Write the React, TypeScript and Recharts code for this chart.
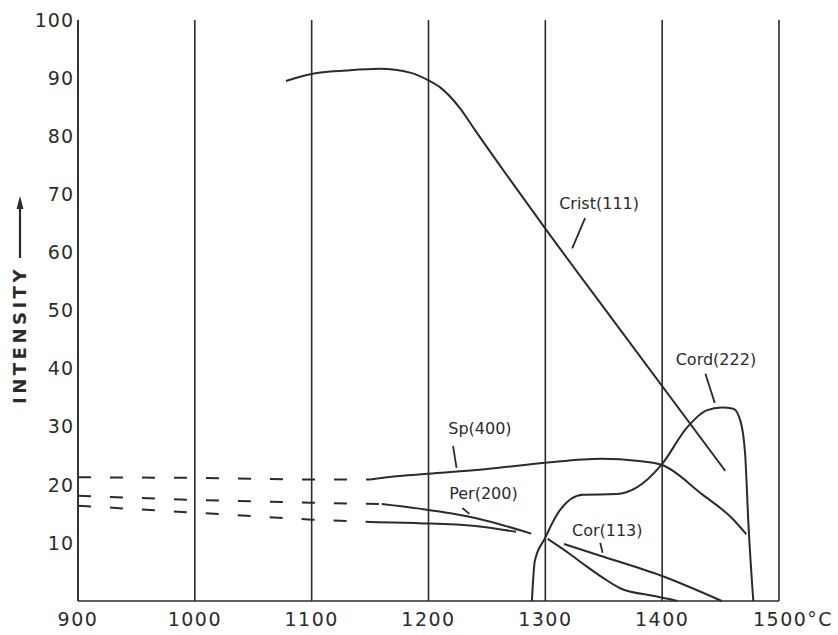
import { LineChart, Line, XAxis, YAxis, CartesianGrid, ReferenceLine, ReferenceDot } from 'recharts';

const FONT = '"DejaVu Sans", sans-serif';
const INK = '#2b2b2b';

// axis ticks
const xTicks = [900, 1000, 1100, 1200, 1300, 1400, 1500];
const yTicks = [10, 20, 30, 40, 50, 60, 70, 80, 90, 100];

// Crist(111)
const cristTemp = [1078, 1100, 1130, 1158, 1185, 1200, 1210, 1227, 1240, 1300, 1357, 1454];
const cristVal = [89.5, 90.7, 91.3, 91.6, 90.9, 89.6, 88.4, 84.8, 81.0, 64.1, 48.6, 22.4];

// Sp(400) - extrapolated part, then measured
const spDashTemp = [900, 1000, 1100, 1150];
const spDashVal = [21.3, 21.2, 20.9, 20.9];
const spTemp = [1150, 1175, 1200, 1250, 1300, 1348, 1380, 1400, 1434, 1460, 1472];
const spVal = [20.9, 21.5, 21.9, 22.7, 23.8, 24.5, 24.1, 23.4, 18.4, 14.2, 11.5];

// Per(200) - upper trace
const perDashTemp = [900, 1000, 1100, 1160];
const perDashVal = [18.1, 17.4, 16.9, 16.7];
const perTemp = [1160, 1192, 1240, 1288];
const perVal = [16.7, 15.9, 14.3, 11.6];

// lower trace
const lowDashTemp = [900, 1000, 1100, 1150];
const lowDashVal = [16.4, 15.2, 14.0, 13.6];
const lowTemp = [1150, 1192, 1240, 1275];
const lowVal = [13.6, 13.4, 12.9, 11.9];

// Cord(222)
const cordTemp = [1288.5, 1291, 1300, 1307, 1312, 1332, 1361, 1378, 1400, 1421, 1438, 1451, 1461, 1467, 1471, 1474, 1478];
const cordVal = [0, 6.9, 10.9, 13.8, 15.5, 18.3, 18.4, 19.5, 23.6, 29.8, 32.8, 33.3, 33.1, 31.0, 25.3, 12.6, 0];

// Cor(113) - two traces
const corTemp = [1302, 1321, 1335, 1350, 1364, 1392, 1407, 1413];
const corVal = [10.7, 8.1, 6.0, 3.9, 2.2, 0.9, 0.3, 0];
const cor2Temp = [1316, 1347, 1400, 1451];
const cor2Val = [9.8, 7.8, 4.3, 0];

const zip = (t: number[], v: number[]) => t.map((x, i) => ({ t: x, v: v[i] }));

const XTick = ({ x, y, payload }: any) => {
  const last = payload.value === 1500;
  return (
    <text
      x={x}
      y={y}
      dy="0.71em"
      dx={last ? -26 : 0}
      textAnchor={last ? 'start' : 'middle'}
      fill={INK}
      fontSize={19}
      fontFamily={FONT}
      letterSpacing={1.5}
    >
      {last ? '1500°C' : payload.value}
    </text>
  );
};

const IntensityLabel = () => (
  <g>
    <text
      transform="translate(26,335) rotate(-90)"
      textAnchor="middle"
      fill={INK}
      fontSize={18}
      fontWeight={600}
      fontFamily={FONT}
      letterSpacing={3.5}
    >
      INTENSITY
    </text>
    <line x1={20} y1={258} x2={20} y2={206} stroke={INK} strokeWidth={2.2} />
    <path d="M20 196 L16.5 209 L23.5 209 Z" fill={INK} />
  </g>
);

const tagStyle = { fill: INK, fontSize: 16, fontFamily: FONT, position: 'center' as const };

export default function App() {
  return (
    <div style={{ position: 'absolute', left: 0, top: 0, background: '#fff' }}>
      <LineChart width={838} height={635} margin={{ top: 20, right: 59, left: 0, bottom: 0 }}>
        <CartesianGrid horizontal={false} stroke={INK} strokeWidth={1.6} />
        <XAxis
          type="number"
          dataKey="t"
          domain={[900, 1500]}
          ticks={xTicks}
          height={34}
          tickSize={0}
          tickMargin={12}
          tickLine={false}
          axisLine={{ stroke: INK, strokeWidth: 1.6 }}
          tick={<XTick />}
          allowDataOverflow
        />
        <YAxis
          type="number"
          domain={[0, 100]}
          ticks={yTicks}
          width={78}
          tickSize={0}
          tickMargin={4}
          tickLine={false}
          axisLine={{ stroke: INK, strokeWidth: 1.6 }}
          tick={{ fill: INK, fontSize: 19, fontFamily: FONT, letterSpacing: 1 }}
          label={<IntensityLabel />}
        />

        <Line data={zip(cristTemp, cristVal)} dataKey="v" type="monotone" stroke={INK} strokeWidth={2} dot={false} isAnimationActive={false} />
        <Line data={zip(spDashTemp, spDashVal)} dataKey="v" type="linear" stroke={INK} strokeWidth={2} strokeDasharray="13 19" dot={false} isAnimationActive={false} />
        <Line data={zip(spTemp, spVal)} dataKey="v" type="monotone" stroke={INK} strokeWidth={2} dot={false} isAnimationActive={false} />
        <Line data={zip(perDashTemp, perDashVal)} dataKey="v" type="linear" stroke={INK} strokeWidth={2} strokeDasharray="13 19" dot={false} isAnimationActive={false} />
        <Line data={zip(perTemp, perVal)} dataKey="v" type="monotone" stroke={INK} strokeWidth={2} dot={false} isAnimationActive={false} />
        <Line data={zip(lowDashTemp, lowDashVal)} dataKey="v" type="linear" stroke={INK} strokeWidth={2} strokeDasharray="13 19" dot={false} isAnimationActive={false} />
        <Line data={zip(lowTemp, lowVal)} dataKey="v" type="monotone" stroke={INK} strokeWidth={2} dot={false} isAnimationActive={false} />
        <Line data={zip(cordTemp, cordVal)} dataKey="v" type="monotone" stroke={INK} strokeWidth={2} dot={false} isAnimationActive={false} />
        <Line data={zip(corTemp, corVal)} dataKey="v" type="monotone" stroke={INK} strokeWidth={2} dot={false} isAnimationActive={false} />
        <Line data={zip(cor2Temp, cor2Val)} dataKey="v" type="monotone" stroke={INK} strokeWidth={2} dot={false} isAnimationActive={false} />

        {/* curve labels and their pointer strokes */}
        <ReferenceLine segment={[{ x: 1334, y: 65.9 }, { x: 1323, y: 60.7 }]} stroke={INK} strokeWidth={1.8} />
        <ReferenceLine segment={[{ x: 1437, y: 39.1 }, { x: 1445, y: 34.1 }]} stroke={INK} strokeWidth={1.8} />
        <ReferenceLine segment={[{ x: 1221, y: 26.7 }, { x: 1224, y: 22.9 }]} stroke={INK} strokeWidth={1.8} />
        <ReferenceLine segment={[{ x: 1229, y: 16.0 }, { x: 1235, y: 15.0 }]} stroke={INK} strokeWidth={1.8} />
        <ReferenceLine segment={[{ x: 1347, y: 10.0 }, { x: 1349, y: 8.3 }]} stroke={INK} strokeWidth={1.8} />
        <ReferenceDot x={1346} y={68.4} r={0} stroke="none" fill="none" label={{ value: 'Crist(111)', ...tagStyle }} />
        <ReferenceDot x={1446} y={41.6} r={0} stroke="none" fill="none" label={{ value: 'Cord(222)', ...tagStyle }} />
        <ReferenceDot x={1244} y={29.7} r={0} stroke="none" fill="none" label={{ value: 'Sp(400)', ...tagStyle }} />
        <ReferenceDot x={1247} y={18.6} r={0} stroke="none" fill="none" label={{ value: 'Per(200)', ...tagStyle }} />
        <ReferenceDot x={1353} y={12.2} r={0} stroke="none" fill="none" label={{ value: 'Cor(113)', ...tagStyle }} />
      </LineChart>
    </div>
  );
}
